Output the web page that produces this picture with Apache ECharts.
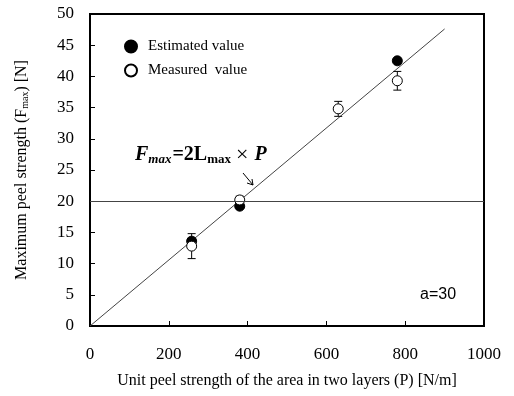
<!DOCTYPE html>
<html><head><meta charset="utf-8">
<script src="https://cdn.jsdelivr.net/npm/echarts@6/dist/echarts.min.js"></script>
<style>html,body{margin:0;padding:0;background:#fff}#c{width:514px;height:396px}</style>
</head><body><div id="c"></div>
<script>
const xTicks = [0, 200, 400, 600, 800, 1000];
const estimatedP = [258, 380, 780];
const estimatedF = [13.6, 19.2, 42.5];
const measuredP = [258, 380, 630, 780];
const measuredF = [12.8, 20.2, 34.8, 39.3];
const measuredErr = [2.0, 0.6, 1.2, 1.5];
const fitLineP = [0, 900];
const fitLineF = [0, 47.6];
const refLevel = 20;

const chart = echarts.init(document.getElementById('c'));
const serif = 'Liberation Serif';
const errData = measuredP.map((p, i) => [p, measuredF[i] - measuredErr[i], measuredF[i] + measuredErr[i]]);

chart.setOption({
  animation: false,
  backgroundColor: '#fff',
  textStyle: {fontFamily: serif},
  grid: {left: 90, right: 30, top: 14, bottom: 70, show: true, borderColor: '#000', borderWidth: 2, backgroundColor: 'transparent'},
  legend: {
    left: 119, top: 34, orient: 'vertical', itemGap: 9, itemWidth: 12, itemHeight: 12,
    textStyle: {fontFamily: serif, fontSize: 15, color: '#000', padding: [0, 0, 0, 6]},
    data: [{name: 'Estimated value', icon: 'circle'}, {name: 'Measured  value', icon: 'circle'}]
  },
  xAxis: {
    type: 'value', min: 0, max: 1000, interval: 200,
    name: 'Unit peel strength of the area in two layers (P) [N/m]',
    nameLocation: 'middle', nameGap: 47,
    nameTextStyle: {fontFamily: serif, fontSize: 16, color: '#000'},
    axisLine: {lineStyle: {color: '#000', width: 2}},
    axisTick: {inside: true, length: 5, lineStyle: {color: '#000'}},
    axisLabel: {fontFamily: serif, fontSize: 17, color: '#000', margin: 20, formatter: v => String(v)},
    splitLine: {show: false}
  },
  yAxis: {
    type: 'value', min: 0, max: 50, interval: 5,
    name: '{a|Maximum peel strength (F}{s|max}{a|) [N]}',
    nameLocation: 'middle', nameGap: 60,
    nameTextStyle: {rich: {a: {fontFamily: serif, fontSize: 16, color: '#000'}, s: {fontFamily: serif, fontSize: 10, color: '#000', verticalAlign: 'bottom', padding: [6, 0, 0, 0]}}},
    axisLine: {lineStyle: {color: '#000', width: 2}},
    axisTick: {inside: true, length: 5, lineStyle: {color: '#000'}},
    axisLabel: {fontFamily: serif, fontSize: 17, color: '#000', margin: 16},
    splitLine: {show: false}
  },
  series: [
    {
      name: 'fit', type: 'line', data: fitLineP.map((p, i) => [p, fitLineF[i]]),
      symbol: 'none', lineStyle: {color: '#444', width: 1}, silent: true, z: 1,
      markLine: {
        silent: true, symbol: 'none', label: {show: false},
        lineStyle: {color: '#444', width: 1, type: 'solid'},
        data: [{yAxis: refLevel}]
      }
    },
    {
      name: 'err', type: 'custom', data: errData, z: 2,
      renderItem: function (params, api) {
        const x = api.value(0);
        const lo = api.coord([x, api.value(1)]);
        const hi = api.coord([x, api.value(2)]);
        const w = 4;
        const st = {stroke: '#000', lineWidth: 1};
        return {type: 'group', children: [
          {type: 'line', shape: {x1: lo[0], y1: lo[1], x2: hi[0], y2: hi[1]}, style: st},
          {type: 'line', shape: {x1: lo[0] - w, y1: lo[1], x2: lo[0] + w, y2: lo[1]}, style: st},
          {type: 'line', shape: {x1: hi[0] - w, y1: hi[1], x2: hi[0] + w, y2: hi[1]}, style: st}
        ]};
      }
    },
    {
      name: 'Estimated value', type: 'scatter', data: estimatedP.map((p, i) => [p, estimatedF[i]]),
      symbol: 'circle', symbolSize: 10, itemStyle: {color: '#000', borderColor: '#000', borderWidth: 1, opacity: 1}, z: 3
    },
    {
      name: 'Measured  value', type: 'scatter', data: measuredP.map((p, i) => [p, measuredF[i]]),
      symbol: 'circle', symbolSize: 10, itemStyle: {color: '#fff', borderColor: '#000', borderWidth: 1, opacity: 1}, z: 4
    }
  ],
  graphic: [
    {
      type: 'text', left: 135, top: 144,
      style: {
        text: '{bi|F}{bs|max}{b|=2L}{bs2|max}{n|×}{bi|P}',
        rich: {
          bi: {fontFamily: serif, fontSize: 20, fontWeight: 'bold', fontStyle: 'italic', fill: '#000'},
          bs: {fontFamily: serif, fontSize: 13, fontWeight: 'bold', fontStyle: 'italic', fill: '#000', padding: [9, 1, 0, 0]},
          b: {fontFamily: serif, fontSize: 20, fontWeight: 'bold', fill: '#000'},
          bs2: {fontFamily: serif, fontSize: 13, fontWeight: 'bold', fill: '#000', padding: [9, 0, 0, 0]},
          n: {fontFamily: serif, fontSize: 22, fill: '#000', padding: [0, 6, 0, 5]}
        }
      }
    },
    {type: 'line', shape: {x1: 243, y1: 173, x2: 253, y2: 185}, style: {stroke: '#000', lineWidth: 1}},
    {type: 'polyline', shape: {points: [[247, 183], [253, 185], [252, 179]]}, style: {stroke: '#000', lineWidth: 1, fill: null}},
    {type: 'text', left: 420, top: 287, style: {text: 'a=30', fontFamily: 'Liberation Sans', fontSize: 16, fill: '#000'}}
  ]
});
</script></body></html>
